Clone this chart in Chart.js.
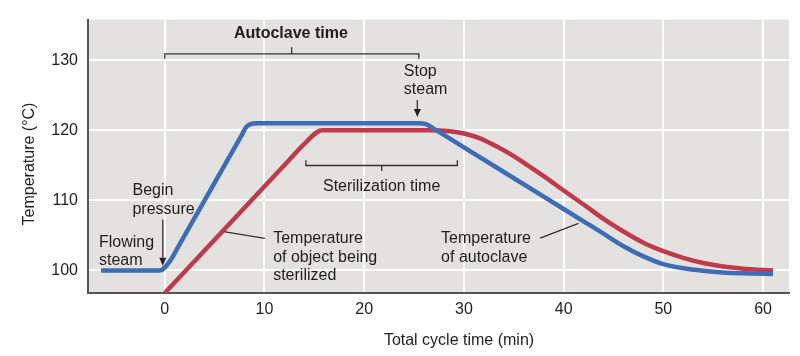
<!DOCTYPE html>
<html><head><meta charset="utf-8">
<script src="https://cdn.jsdelivr.net/npm/chart.js@4"></script>
<style>html,body{margin:0;padding:0;background:#fff}#wrap{width:800px;height:356px}</style>
</head><body><div id="wrap"><canvas id="c"></canvas></div>
<script>
// ---- data ----
const autoclaveTime = [-6.4, -0.5, 0.6, 1.2, 7.6, 8.2, 9.2, 25.4, 26.2, 27, 30, 34, 38, 42, 44, 46, 48, 50, 52, 54, 56, 58, 61];
const autoclaveTemp = [100, 100, 101.5, 103, 119, 120.5, 121, 121, 120.88, 120.2, 117.56, 114.04, 110.52, 107.0, 105.24, 103.45, 102.0, 100.9, 100.3, 99.95, 99.72, 99.6, 99.5];
const objectTime = [0, 12.5, 14.0, 15.8, 26.5, 28.6, 30, 31.6, 33.3, 35, 36.6, 38, 40, 42, 44, 46, 48, 50, 52, 54, 56, 58, 61];
const objectTemp = [96.78, 115.78, 118.06, 120, 120, 119.86, 119.54, 118.85, 117.68, 116.3, 114.8, 113.45, 111.4, 109.4, 107.35, 105.55, 103.95, 102.75, 101.8, 101.05, 100.55, 100.25, 100.0];
const xTickValues = [0, 10, 20, 30, 40, 50, 60];
const yTickValues = [100, 110, 120, 130];
const xTitle = 'Total cycle time (min)';
const yTitle = 'Temperature (°C)';

// ---- annotations (data coordinates) ----
const noteTexts = [
  {lines: ['Autoclave time'], x: 12.65, y: 133.12, align: 'center', bold: true},
  {lines: ['Stop', 'steam'], x: 23.97, y: 127.73, align: 'left'},
  {lines: ['Begin', 'pressure'], x: -3.24, y: 110.69, align: 'left'},
  {lines: ['Flowing', 'steam'], x: -6.6, y: 103.34, align: 'left'},
  {lines: ['Temperature', 'of object being', 'sterilized'], x: 10.87, y: 103.85, align: 'left'},
  {lines: ['Temperature', 'of autoclave'], x: 27.71, y: 103.85, align: 'left'},
  {lines: ['Sterilization time'], x: 21.75, y: 111.32, align: 'center'}
];
const notePaths = [
  [[0, 130.18], [0, 130.88], [25.47, 130.88], [25.47, 130.18]],
  [[12.72, 130.88], [12.72, 131.86]],
  [[14.15, 115.73], [14.15, 114.97], [29.34, 114.97], [29.34, 115.73]],
  [[21.75, 114.97], [21.75, 114.19]],
  [[5.92, 105.55], [10.04, 104.58]],
  [[37.64, 104.62], [41.49, 106.72]]
];
const noteArrows = [
  [[25.33, 124.30], [25.33, 121.88]],
  [[-0.2, 107.23], [-0.2, 100.66]]
];

const FONT = "'Liberation Sans', Arial, Helvetica, sans-serif";
const INK = '#1e1e1e';

const bgPlugin = {
  id: 'bg',
  beforeDraw(chart) {
    const {ctx, chartArea: a} = chart;
    ctx.save();
    ctx.fillStyle = '#e3e2e1';
    ctx.fillRect(a.left, a.top, a.right - a.left, a.bottom - a.top);
    ctx.restore();
  }
};

const notesPlugin = {
  id: 'notes',
  afterDatasetsDraw(chart) {
    const {ctx} = chart;
    const xs = chart.scales.x, ys = chart.scales.y;
    const P = (p) => [xs.getPixelForValue(p[0]), ys.getPixelForValue(p[1])];
    ctx.save();
    ctx.strokeStyle = '#333';
    ctx.fillStyle = '#222';
    ctx.lineWidth = 1.3;
    notePaths.forEach(path => {
      ctx.beginPath();
      path.forEach((p, i) => { const [px, py] = P(p); i ? ctx.lineTo(px, py) : ctx.moveTo(px, py); });
      ctx.stroke();
    });
    noteArrows.forEach(([a, b]) => {
      const [x1, y1] = P(a), [x2, y2] = P(b);
      const ang = Math.atan2(y2 - y1, x2 - x1);
      const L = 8, W = 3.5;
      const bx = x2 - L * Math.cos(ang), by = y2 - L * Math.sin(ang);
      ctx.beginPath(); ctx.moveTo(x1, y1); ctx.lineTo(bx, by); ctx.stroke();
      ctx.beginPath();
      ctx.moveTo(x2, y2);
      ctx.lineTo(bx + W * Math.sin(ang), by - W * Math.cos(ang));
      ctx.lineTo(bx - W * Math.sin(ang), by + W * Math.cos(ang));
      ctx.closePath(); ctx.fill();
    });
    ctx.fillStyle = INK;
    ctx.textBaseline = 'alphabetic';
    noteTexts.forEach(t => {
      ctx.font = (t.bold ? 'bold ' : '') + '16px ' + FONT;
      ctx.textAlign = t.align;
      const [px, py] = P([t.x, t.y]);
      t.lines.forEach((ln, i) => ctx.fillText(ln, px, py + i * 18.3));
    });
    // axis titles
    ctx.font = '16px ' + FONT;
    ctx.textAlign = 'center';
    ctx.textBaseline = 'middle';
    ctx.fillText(xTitle, 459, 341);
    ctx.translate(29.5, 164);
    ctx.rotate(-Math.PI / 2);
    ctx.fillText(yTitle, 0, 0);
    ctx.restore();
  }
};

new Chart(document.getElementById('c'), {
  type: 'line',
  data: {
    datasets: [
      {
        label: 'Temperature of autoclave',
        data: autoclaveTime.map((x, i) => ({x, y: autoclaveTemp[i]})),
        borderColor: '#3f6db5', borderWidth: 4.5, pointRadius: 0,
        cubicInterpolationMode: 'monotone', clip: 0, order: 0,
        borderCapStyle: 'butt', borderJoinStyle: 'round'
      },
      {
        label: 'Temperature of object being sterilized',
        data: objectTime.map((x, i) => ({x, y: objectTemp[i]})),
        borderColor: '#bf3a4a', borderWidth: 4.5, pointRadius: 0,
        cubicInterpolationMode: 'monotone', clip: 0, order: 1,
        borderCapStyle: 'butt', borderJoinStyle: 'round'
      }
    ]
  },
  options: {
    responsive: true, maintainAspectRatio: false, animation: false,
    layout: {padding: {top: 14, right: 11, left: 0, bottom: 0}},
    plugins: {legend: {display: false}, tooltip: {enabled: false}},
    scales: {
      x: {
        type: 'linear', min: -7.7, max: 62.6,
        afterBuildTicks: s => { s.ticks = xTickValues.map(v => ({value: v})); },
        afterFit: s => { s.height = 63; },
        grid: {color: '#ffffff', lineWidth: 2, drawTicks: false},
        border: {display: true, color: '#555', width: 2},
        ticks: {padding: 7, color: INK, font: {family: FONT, size: 16}, maxRotation: 0}
      },
      y: {
        type: 'linear', min: 96.78, max: 135.78,
        afterBuildTicks: s => { s.ticks = yTickValues.map(v => ({value: v})); },
        afterFit: s => { s.width = 88; },
        grid: {color: '#ffffff', lineWidth: 2, drawTicks: false},
        border: {display: true, color: '#555', width: 2},
        ticks: {padding: 10, color: INK, font: {family: FONT, size: 16}}
      }
    }
  },
  plugins: [bgPlugin, notesPlugin]
});
</script>
</body></html>
